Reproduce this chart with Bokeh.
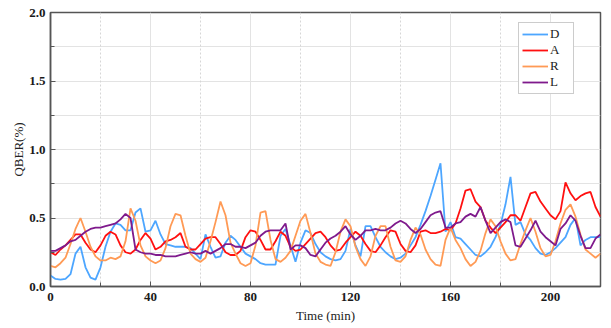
from bokeh.plotting import figure
from bokeh.models import Range1d, FixedTicker, PrintfTickFormatter, Grid, Legend, LegendItem
from bokeh.embed import file_html
from bokeh.resources import INLINE

# ---- data ----
time_min = list(range(0, 221, 2))

D = [0.08, 0.055, 0.05, 0.055, 0.09, 0.24, 0.29, 0.14, 0.065, 0.05,
     0.14, 0.29, 0.40, 0.46, 0.45, 0.41, 0.41, 0.54, 0.57, 0.40,
     0.41, 0.48, 0.38, 0.31, 0.30, 0.29, 0.29, 0.29, 0.28, 0.24,
     0.20, 0.38, 0.29, 0.21, 0.22, 0.32, 0.37, 0.34, 0.29, 0.24,
     0.22, 0.20, 0.17, 0.16, 0.16, 0.16, 0.37, 0.42, 0.30, 0.18,
     0.32, 0.41, 0.39, 0.31, 0.25, 0.22, 0.20, 0.19, 0.20, 0.26,
     0.42, 0.30, 0.22, 0.44, 0.44, 0.36, 0.29, 0.25, 0.22, 0.20,
     0.21, 0.24, 0.30, 0.36, 0.45, 0.55, 0.66, 0.78, 0.90, 0.40,
     0.47, 0.36, 0.35, 0.31, 0.27, 0.23, 0.22, 0.25, 0.29, 0.36,
     0.45, 0.60, 0.80, 0.45, 0.47, 0.38, 0.34, 0.28, 0.24, 0.23,
     0.25, 0.28, 0.32, 0.36, 0.45, 0.50, 0.30, 0.34, 0.36, 0.36,
     0.36]

A = [0.25, 0.23, 0.27, 0.30, 0.34, 0.38, 0.38, 0.32, 0.27, 0.25,
     0.30, 0.37, 0.40, 0.38, 0.30, 0.25, 0.24, 0.27, 0.34, 0.39,
     0.35, 0.27, 0.29, 0.33, 0.34, 0.36, 0.39, 0.29, 0.27, 0.27,
     0.31, 0.35, 0.36, 0.36, 0.31, 0.25, 0.23, 0.23, 0.26, 0.36,
     0.41, 0.40, 0.34, 0.27, 0.27, 0.33, 0.40, 0.37, 0.29, 0.26,
     0.27, 0.31, 0.35, 0.39, 0.40, 0.36, 0.30, 0.26, 0.27, 0.32,
     0.36, 0.40, 0.37, 0.31, 0.26, 0.25, 0.30, 0.36, 0.41, 0.40,
     0.31, 0.26, 0.25, 0.30, 0.40, 0.41, 0.39, 0.39, 0.40, 0.42,
     0.41, 0.46, 0.57, 0.70, 0.71, 0.62, 0.58, 0.48, 0.43, 0.39,
     0.43, 0.47, 0.52, 0.52, 0.48, 0.58, 0.68, 0.69, 0.62, 0.57,
     0.52, 0.49, 0.55, 0.76, 0.68, 0.63, 0.66, 0.68, 0.69, 0.58,
     0.51]

R = [0.15, 0.14, 0.17, 0.21, 0.31, 0.42, 0.50, 0.40, 0.29, 0.22,
     0.19, 0.19, 0.21, 0.20, 0.22, 0.33, 0.57, 0.48, 0.30, 0.22,
     0.19, 0.17, 0.19, 0.28, 0.44, 0.53, 0.52, 0.37, 0.24, 0.20,
     0.18, 0.21, 0.33, 0.47, 0.62, 0.52, 0.32, 0.24, 0.17, 0.15,
     0.17, 0.30, 0.54, 0.55, 0.34, 0.20, 0.18, 0.21, 0.26, 0.37,
     0.48, 0.53, 0.39, 0.24, 0.18, 0.16, 0.15, 0.25, 0.40, 0.49,
     0.44, 0.29, 0.20, 0.15, 0.22, 0.37, 0.44, 0.44, 0.29, 0.19,
     0.18, 0.22, 0.34, 0.43, 0.38, 0.27, 0.20, 0.16, 0.15, 0.34,
     0.43, 0.34, 0.28, 0.20, 0.15, 0.18, 0.26, 0.39, 0.49, 0.44,
     0.33, 0.24, 0.19, 0.20, 0.31, 0.41, 0.50, 0.40, 0.28, 0.22,
     0.23, 0.33, 0.46, 0.56, 0.60, 0.51, 0.38, 0.27, 0.24, 0.21,
     0.24]

L = [0.26, 0.26, 0.28, 0.30, 0.33, 0.34, 0.37, 0.40, 0.42, 0.43,
     0.43, 0.44, 0.45, 0.46, 0.49, 0.53, 0.50, 0.27, 0.25, 0.24,
     0.24, 0.23, 0.23, 0.22, 0.22, 0.22, 0.23, 0.24, 0.25, 0.24,
     0.24, 0.26, 0.24, 0.26, 0.28, 0.31, 0.31, 0.29, 0.29, 0.28,
     0.30, 0.32, 0.37, 0.40, 0.41, 0.41, 0.41, 0.46, 0.27, 0.30,
     0.30, 0.28, 0.23, 0.22, 0.27, 0.32, 0.35, 0.37, 0.40, 0.44,
     0.38, 0.34, 0.37, 0.41, 0.41, 0.42, 0.41, 0.41, 0.43, 0.46,
     0.48, 0.46, 0.42, 0.39, 0.42, 0.47, 0.52, 0.54, 0.55, 0.43,
     0.43, 0.46, 0.47, 0.51, 0.53, 0.51, 0.58, 0.48, 0.39, 0.43,
     0.47, 0.49, 0.47, 0.30, 0.29, 0.35, 0.41, 0.48, 0.40, 0.36,
     0.33, 0.30, 0.42, 0.46, 0.52, 0.48, 0.37, 0.28, 0.28, 0.35,
     0.38]

series_names = ["D", "A", "R", "L"]
series_colors = ["#4DA6FF", "#FF1010", "#FF9A55", "#7F1A8C"]
x_major = [0, 40, 80, 120, 160, 200]
x_minor = [20, 60, 100, 140, 180]
y_major = [0.0, 0.5, 1.0, 1.5, 2.0]
y_minor = [0.25, 0.75, 1.25, 1.75]

SERIF = "Liberation Serif"

p = figure(width=611, height=328, output_backend="svg", toolbar_location=None,
           x_range=Range1d(0, 220), y_range=Range1d(0, 2.0),
           min_border_left=50, min_border_right=11, min_border_top=12, min_border_bottom=42)
p.background_fill_color = "white"
p.border_fill_color = "white"
p.outline_line_color = "#555555"
p.outline_line_width = 1.5

# grids
p.xgrid.ticker = FixedTicker(ticks=x_major)
p.xgrid.grid_line_color = "#e3e3e3"
p.xgrid.grid_line_width = 1
p.add_layout(Grid(dimension=0, ticker=FixedTicker(ticks=x_minor),
                  grid_line_color="#d6d6d6", grid_line_dash="2 2", grid_line_width=1))
p.ygrid.ticker = FixedTicker(ticks=y_minor + y_major[1:-1])
p.ygrid.grid_line_color = "#e3e3e3"
p.ygrid.grid_line_width = 1

# axes
p.xaxis.ticker = FixedTicker(ticks=x_major, minor_ticks=x_minor)
p.yaxis.ticker = FixedTicker(ticks=y_major, minor_ticks=y_minor)
p.yaxis.formatter = PrintfTickFormatter(format="%.1f")
for ax in (p.xaxis[0], p.yaxis[0]):
    ax.axis_line_color = "#555555"
    ax.axis_line_width = 1.5
    ax.major_tick_in = 5
    ax.major_tick_out = 0
    ax.minor_tick_in = 4
    ax.minor_tick_out = 0
    ax.major_tick_line_color = "#555555"
    ax.minor_tick_line_color = "#555555"
    ax.major_label_text_font = SERIF
    ax.major_label_text_font_style = "bold"
    ax.major_label_text_font_size = "13px"
    ax.major_label_text_color = "#1a1a1a"
    ax.axis_label_text_font = SERIF
    ax.axis_label_text_font_style = "normal"
    ax.axis_label_text_font_size = "13px"
    ax.axis_label_text_color = "#222222"
p.xaxis.axis_label = "Time (min)"
p.yaxis.axis_label = "QBER(%)"
p.xaxis.major_label_standoff = 6
p.xaxis.axis_label_standoff = 4
p.yaxis.major_label_standoff = 5
p.yaxis.axis_label_standoff = 0

items = []
for name, col, vals in zip(series_names, series_colors, [D, A, R, L]):
    r = p.line(time_min, vals, line_color=col, line_width=1.8)
    items.append(LegendItem(label=name, renderers=[r]))

leg = Legend(items=items, location=(468, 192))
leg.label_text_font = SERIF
leg.label_text_font_size = "13px"
leg.label_text_color = "#222222"
leg.glyph_width = 26
leg.glyph_height = 10
leg.label_height = 14
leg.label_standoff = 2
leg.spacing = 0
leg.padding = 3
leg.margin = 0
leg.border_line_color = "#999999"
leg.border_line_width = 1
leg.background_fill_alpha = 1.0
p.add_layout(leg, "center")

open("out.html", "w").write(file_html(p, INLINE))
